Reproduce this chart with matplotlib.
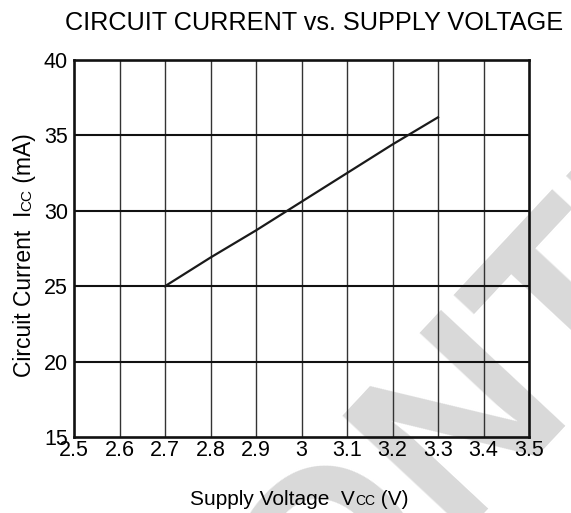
import numpy as np
import matplotlib
matplotlib.use("Agg")
import matplotlib.pyplot as plt

plt.rcParams['font.family'] = ['Liberation Sans', 'DejaVu Sans']

# data
vcc = [2.7, 2.8, 2.9, 3.0, 3.1, 3.2, 3.3]
icc = [25.0, 26.9, 28.7, 30.6, 32.5, 34.4, 36.2]
xticks = [2.5, 2.6, 2.7, 2.8, 2.9, 3.0, 3.1, 3.2, 3.3, 3.4, 3.5]
xticklabels = ["2.5", "2.6", "2.7", "2.8", "2.9", "3", "3.1", "3.2", "3.3", "3.4", "3.5"]
yticks = [15, 20, 25, 30, 35, 40]

W, H = 571, 513
fig = plt.figure(figsize=(W / 100, H / 100), dpi=100)
ax = fig.add_axes([74 / W, 1 - 437 / H, (529 - 74) / W, (437 - 60) / H])
ax.set_facecolor("none")

# watermark behind the chart (only "ONT" falls inside the picture)
fig.text(558 / W, 1 - 416.5 / H, "DISCONTINUED", fontsize=177, fontweight="bold",
         color="#d9d9d9", rotation=47, rotation_mode="anchor",
         ha="center", va="baseline", zorder=-5)

for x in xticks[1:-1]:
    ax.axvline(x, color="#333333", lw=1.0, zorder=1)
for y in yticks[1:-1]:
    ax.axhline(y, color="#111111", lw=1.5, zorder=1)
ax.plot(vcc, icc, color="#1a1a1a", lw=1.6, zorder=3)

ax.set_xlim(2.5, 3.5)
ax.set_ylim(15, 40)
ax.set_xticks(xticks)
ax.set_xticklabels(xticklabels)
ax.set_yticks(yticks)
ax.tick_params(length=0, labelsize=15.5)
ax.tick_params(axis="x", pad=2)
ax.tick_params(axis="y", pad=4.5)
for s in ax.spines.values():
    s.set_linewidth(1.9)
    s.set_color("#111111")

fig.text(314 / W, 1 - 30.5 / H, "CIRCUIT CURRENT vs. SUPPLY VOLTAGE",
         ha="center", va="baseline", fontsize=18.2)

# axis labels with small "CC" on the baseline
def chain_x(parts, x, y):
    prev = fig.text(x, y, parts[0][0], fontsize=parts[0][1], ha="left", va="baseline")
    for txt, size in parts[1:]:
        d = 0.21 * prev.get_fontsize()
        prev = fig.add_artist(matplotlib.text.Annotation(
            txt, xy=(1, 0), xycoords=prev, xytext=(0, d), textcoords="offset points",
            fontsize=size, ha="left", va="baseline", annotation_clip=False))

def chain_y(parts, x, y):
    prev = fig.text(x, y, parts[0][0], fontsize=parts[0][1], rotation=90,
                    rotation_mode="anchor", ha="left", va="baseline")
    for txt, size in parts[1:]:
        d = 0.21 * prev.get_fontsize()
        prev = fig.add_artist(matplotlib.text.Annotation(
            txt, xy=(1, 1), xycoords=prev, xytext=(-d, 0), textcoords="offset points",
            fontsize=size, rotation=90, rotation_mode="anchor",
            ha="left", va="baseline", annotation_clip=False))

chain_x([("Supply Voltage  V", 15), ("CC", 10), (" (V)", 15)], 190 / W, 1 - 505 / H)
chain_y([("Circuit Current  I", 16.5), ("CC", 11), (" (mA)", 16.5)], 31 / W, 1 - 377 / H)

fig.savefig("out.png", dpi=100)
